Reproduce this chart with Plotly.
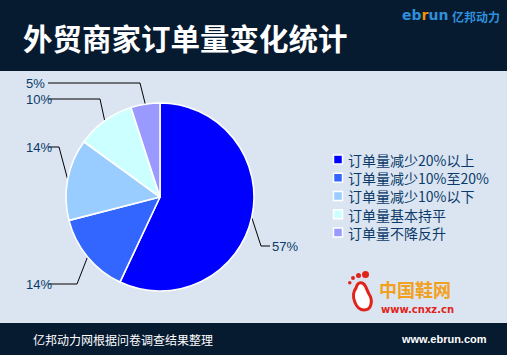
import math
import plotly.graph_objects as go

# ---- data ----
categories = ["订单量减少20%以上", "订单量减少10%至20%", "订单量减少10%以下", "订单量基本持平", "订单量不降反升"]
values = [57, 14, 14, 10, 5]
colors = ["#0000FF", "#3366FF", "#99CCFF", "#CCFFFF", "#9999FF"]
title_text = "外贸商家订单量变化统计"
source_text = "亿邦动力网根据问卷调查结果整理"
site_text = "www.ebrun.com"

# ---- layout config (pixels) ----
W, H = 507, 355
CX, CY, R = 160, 197, 94
BG = "#DAE5F1"
DARK = "#061A30"
LABEL_COLOR = "#0B3A6A"
FONT = "Noto Sans CJK SC"
LEG_FONT = 14
LEG_STEP = 1.3 * LEG_FONT   # plotly line height for <br>
LEG_CY = 196
LEG_SQ_X = 338
LEG_TEXT_X = 346
# elbow (x, y) and label anchor side per slice
label_layout = [
    dict(ex=261, ey=246, tx=270, side="left"),
    dict(ex=77, ey=284, tx=24, side="right"),
    dict(ex=59, ey=147, tx=24, side="right"),
    dict(ex=100, ey=99, tx=24, side="right"),
    dict(ex=140, ey=83, tx=24, side="right"),
]

def px(x):
    return x / W

def py(y):
    return 1 - y / H

fig = go.Figure()

fig.add_trace(go.Pie(
    labels=categories, values=values, sort=False, direction="clockwise", rotation=0,
    marker=dict(colors=colors, line=dict(color="white", width=1.6)),
    textinfo="none", hoverinfo="label+percent", showlegend=False,
    domain=dict(x=[px(CX - R), px(CX + R)], y=[py(CY + R), py(CY - R)]),
))

# leader lines computed from the slice angles
total = sum(values)
lx, ly = [], []
annotations = []
cum = 0
for v, lay in zip(values, label_layout):
    mid = (cum + v / 2) / total * 2 * math.pi
    cum += v
    sx = CX + R * math.sin(mid)
    sy = CY - R * math.cos(mid)
    end_x = lay["tx"] if lay["side"] == "left" else 48
    lx += [sx, lay["ex"], end_x, None]
    ly += [sy, lay["ey"], lay["ey"], None]
    annotations.append(dict(
        x=lay["tx"], y=lay["ey"], xref="x", yref="y", text=f"{round(v / total * 100)}%",
        showarrow=False, xanchor="left", yanchor="middle",
        font=dict(family="Liberation Sans", size=13, color=LABEL_COLOR),
    ))

fig.add_trace(go.Scatter(x=lx, y=ly, mode="lines", line=dict(color="black", width=1),
                         showlegend=False, hoverinfo="skip"))

shapes = [
    dict(type="rect", xref="x", yref="y", x0=0, x1=W, y0=0, y1=71, fillcolor=DARK, line_width=0, layer="below"),
    dict(type="rect", xref="x", yref="y", x0=0, x1=W, y0=323, y1=H, fillcolor=DARK, line_width=0, layer="below"),
    # footprint logo
    dict(type="path", xref="x", yref="y",
         path="M 356 288 C 350 296, 356 310, 364 310 C 372 310, 373 300, 369 294 C 366 289, 366 284, 362 283 C 358 282, 357 285, 356 288 Z",
         fillcolor="white", line=dict(color="#E2231A", width=3), layer="above"),
    dict(type="circle", xref="x", yref="y", x0=362, x1=369, y0=271, y1=278, fillcolor="#E2231A", line_width=0),
    dict(type="circle", xref="x", yref="y", x0=356, x1=361, y0=273, y1=278, fillcolor="#E2231A", line_width=0),
    dict(type="circle", xref="x", yref="y", x0=351, x1=355, y0=276, y1=280, fillcolor="#E2231A", line_width=0),
    dict(type="circle", xref="x", yref="y", x0=348, x1=351.5, y0=281, y1=284.5, fillcolor="#E2231A", line_width=0),
]

# legend built from categories / colors
n = len(categories)
for i, c in enumerate(colors):
    yc = LEG_CY + (i - (n - 1) / 2) * LEG_STEP
    shapes.append(dict(type="rect", xref="x", yref="y", x0=LEG_SQ_X - 4.5, x1=LEG_SQ_X + 4.5,
                       y0=yc - 4.5, y1=yc + 4.5, fillcolor=c, line=dict(color="white", width=1.5)))
annotations.append(dict(x=LEG_TEXT_X, y=LEG_CY, xref="x", yref="y", text="<br>".join(categories),
                        showarrow=False, xanchor="left", yanchor="middle", align="left",
                        font=dict(family=FONT, size=LEG_FONT, color=LABEL_COLOR)))

annotations += [
    dict(x=21, y=37, xref="x", yref="y", text=f"<b>{title_text}</b>", showarrow=False,
         xanchor="left", yanchor="middle", font=dict(family=FONT, size=29.5, color="white")),
    dict(x=400, y=15, xref="x", yref="y",
         text="<b><span style='color:#2E90DA'>eb</span><span style='color:#F39200'>r</span><span style='color:#2E90DA'>un</span></b>",
         showarrow=False, xanchor="left", yanchor="middle", font=dict(family="DejaVu Sans", size=14)),
    dict(x=450, y=16, xref="x", yref="y", text="<b>亿邦动力</b>", showarrow=False,
         xanchor="left", yanchor="middle", font=dict(family=FONT, size=12, color="#2E90DA")),
    dict(x=31, y=339, xref="x", yref="y", text=source_text, showarrow=False,
         xanchor="left", yanchor="middle", font=dict(family=FONT, size=12, color="white")),
    dict(x=489, y=339, xref="x", yref="y", text=f"<b>{site_text}</b>", showarrow=False,
         xanchor="right", yanchor="middle", font=dict(family="Liberation Sans", size=11, color="white")),
    dict(x=377, y=289, xref="x", yref="y", text="<b>中国鞋网</b>", showarrow=False,
         xanchor="left", yanchor="middle", font=dict(family=FONT, size=18, color="#F2A020")),
    dict(x=379, y=309, xref="x", yref="y", text="<b>www.cnxz.cn</b>", showarrow=False,
         xanchor="left", yanchor="middle", font=dict(family="DejaVu Sans", size=10, color="#E2231A")),
]

fig.update_layout(
    width=W, height=H, margin=dict(l=0, r=0, t=0, b=0),
    paper_bgcolor=BG, plot_bgcolor="rgba(0,0,0,0)",
    xaxis=dict(range=[0, W], visible=False, fixedrange=True, domain=[0, 1]),
    yaxis=dict(range=[H, 0], visible=False, fixedrange=True, domain=[0, 1]),
    shapes=shapes, annotations=annotations, showlegend=False,
)

fig.write_html("out.html")
